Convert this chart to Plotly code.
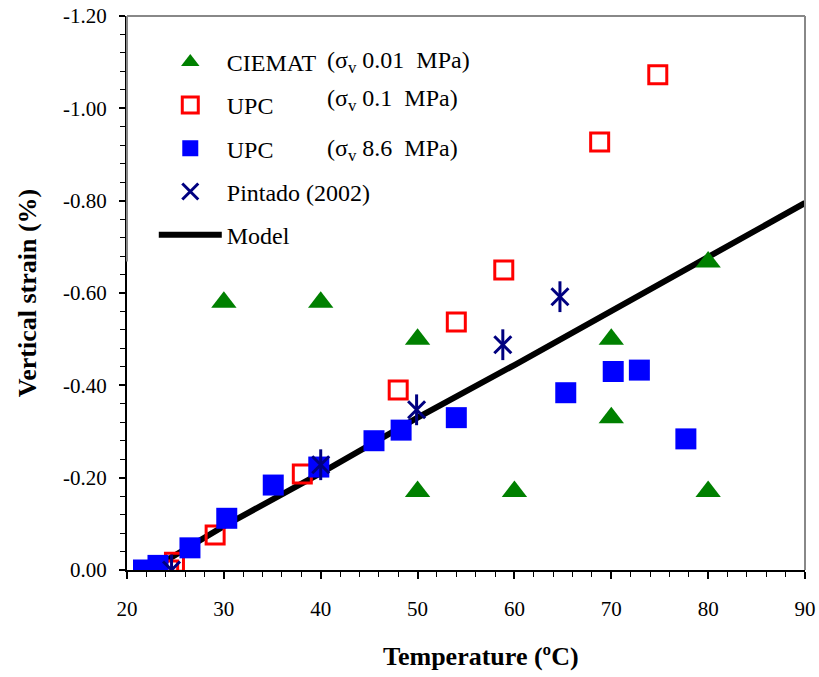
import plotly.graph_objects as go

# ---- data ----
ciemat_T = [30, 40, 50, 50, 60, 70, 70, 80, 80]
ciemat_e = [-0.58, -0.58, -0.50, -0.17, -0.17, -0.50, -0.33, -0.667, -0.17]

upc01_T = [24.3, 24.9, 29.1, 38.1, 48.0, 54.0, 58.9, 68.8, 74.8]
upc01_e = [0.0, -0.017, -0.076, -0.208, -0.39, -0.537, -0.65, -0.927, -1.073]

upc86_T = [21.7, 23.2, 26.5, 30.3, 35.1, 39.8, 45.5, 48.3, 54.0, 65.3, 70.2, 72.9, 77.7]
upc86_e = [0.0, -0.01, -0.048, -0.112, -0.184, -0.223, -0.28, -0.303, -0.33, -0.384, -0.43, -0.433, -0.284]

pint_T = [24.6, 40.0, 49.9, 58.8, 64.7]
pint_e = [0.0, -0.228, -0.347, -0.488, -0.592]

model_T = [24, 30, 40, 50, 60, 70, 80, 90]
model_e = [-0.02, -0.095, -0.21, -0.33, -0.444, -0.56, -0.678, -0.795]

x_ticks = [20, 30, 40, 50, 60, 70, 80, 90]
y_ticks = [0.0, -0.2, -0.4, -0.6, -0.8, -1.0, -1.2]

SERIF = "Liberation Serif"

fig = go.Figure()

fig.add_trace(go.Scatter(
    x=model_T, y=model_e, mode="lines", name="Model",
    line=dict(color="black", width=6), legendgroup="m", legendrank=5))

fig.add_trace(go.Scatter(
    x=ciemat_T, y=ciemat_e, mode="markers", name="CIEMAT",
    marker=dict(symbol="triangle-up", size=22, color="#008000"),
    legendgroup="a", legendrank=1))

fig.add_trace(go.Scatter(
    x=upc01_T, y=upc01_e, mode="markers", name="UPC",
    marker=dict(symbol="square-open", size=18, color="#FF0000",
                line=dict(width=3, color="#FF0000")),
    legendgroup="b", legendrank=2))

fig.add_trace(go.Scatter(
    x=upc86_T, y=upc86_e, mode="markers", name="UPC",
    marker=dict(symbol="square", size=21, color="#0000FF",
                line=dict(width=0)),
    legendgroup="c", legendrank=3))

fig.add_trace(go.Scatter(
    x=pint_T, y=pint_e, mode="markers", name="Pintado (2002)",
    marker=dict(symbol="x-thin-open", size=17, color="#000080",
                line=dict(width=3, color="#000080")),
    legendgroup="d", legendrank=4))
fig.add_trace(go.Scatter(
    x=pint_T, y=pint_e, mode="markers", name="Pintado (2002)",
    marker=dict(symbol="line-ns-open", size=22, color="#000080",
                line=dict(width=3, color="#000080")),
    legendgroup="d", showlegend=False))

fig.update_layout(
    width=819, height=677,
    margin=dict(l=127, r=14, t=16, b=107),
    plot_bgcolor="white", paper_bgcolor="white",
    font=dict(family=SERIF, color="black"),
    showlegend=True,
    legend=dict(
        x=0.0395, y=0.957, xanchor="left", yanchor="top",
        bgcolor="rgba(0,0,0,0)", font=dict(family=SERIF, size=24, color="black"),
        tracegroupgap=9, itemwidth=63,
    ),
    xaxis=dict(
        range=[20, 90], tickmode="array", tickvals=x_ticks,
        ticktext=[str(v) for v in x_ticks], automargin=False,
        showgrid=False, zeroline=False,
        showline=True, linecolor="black", linewidth=2,
        ticks="outside", ticklen=7, tickwidth=1.5, tickcolor="black",
        minor=dict(dtick=2, ticks="outside", ticklen=5, tickcolor="black", tickwidth=1),
        tickfont=dict(family=SERIF, size=21),
        ticklabelstandoff=12,
    ),
    yaxis=dict(
        range=[0, -1.2], tickmode="array", tickvals=y_ticks,
        ticktext=[f"{v:.2f}" for v in y_ticks], automargin=False,
        showgrid=False, zeroline=False,
        showline=True, linecolor="black", linewidth=2,
        ticks="outside", ticklen=6, tickwidth=1.5, tickcolor="black",
        minor=dict(dtick=0.04, ticks="outside", ticklen=5, tickcolor="black", tickwidth=1),
        tickfont=dict(family=SERIF, size=21),
        ticklabelstandoff=8,
        title=dict(text="<b>Vertical strain (%)</b>", font=dict(family=SERIF, size=26), standoff=19),
    ),
    shapes=[
        dict(type="line", xref="paper", yref="paper", x0=0, x1=1, y0=1, y1=1,
             line=dict(color="#888888", width=2)),
        dict(type="line", xref="paper", yref="paper", x0=1, x1=1, y0=0, y1=1,
             line=dict(color="#888888", width=2)),
        dict(type="line", xref="paper", yref="y", x0=0, x1=0, y0=-0.668, y1=-1.2,
             line=dict(color="#888888", width=2)),
    ],
    annotations=[
        dict(text="<b>Temperature (ºC)</b>", xref="paper", yref="paper",
             x=0.522, y=-0.157, xanchor="center", yanchor="middle", showarrow=False,
             font=dict(family=SERIF, size=26)),
        dict(text="(σ<sub>v</sub> 0.01  MPa)", xref="paper", yref="paper",
             x=0.292, y=0.917, xanchor="left", yanchor="middle", showarrow=False,
             font=dict(family=SERIF, size=24)),
        dict(text="(σ<sub>v</sub> 0.1  MPa)", xref="paper", yref="paper",
             x=0.292, y=0.848, xanchor="left", yanchor="middle", showarrow=False,
             font=dict(family=SERIF, size=24)),
        dict(text="(σ<sub>v</sub> 8.6  MPa)", xref="paper", yref="paper",
             x=0.292, y=0.758, xanchor="left", yanchor="middle", showarrow=False,
             font=dict(family=SERIF, size=24)),
    ],
)

fig.write_html("out.html")
